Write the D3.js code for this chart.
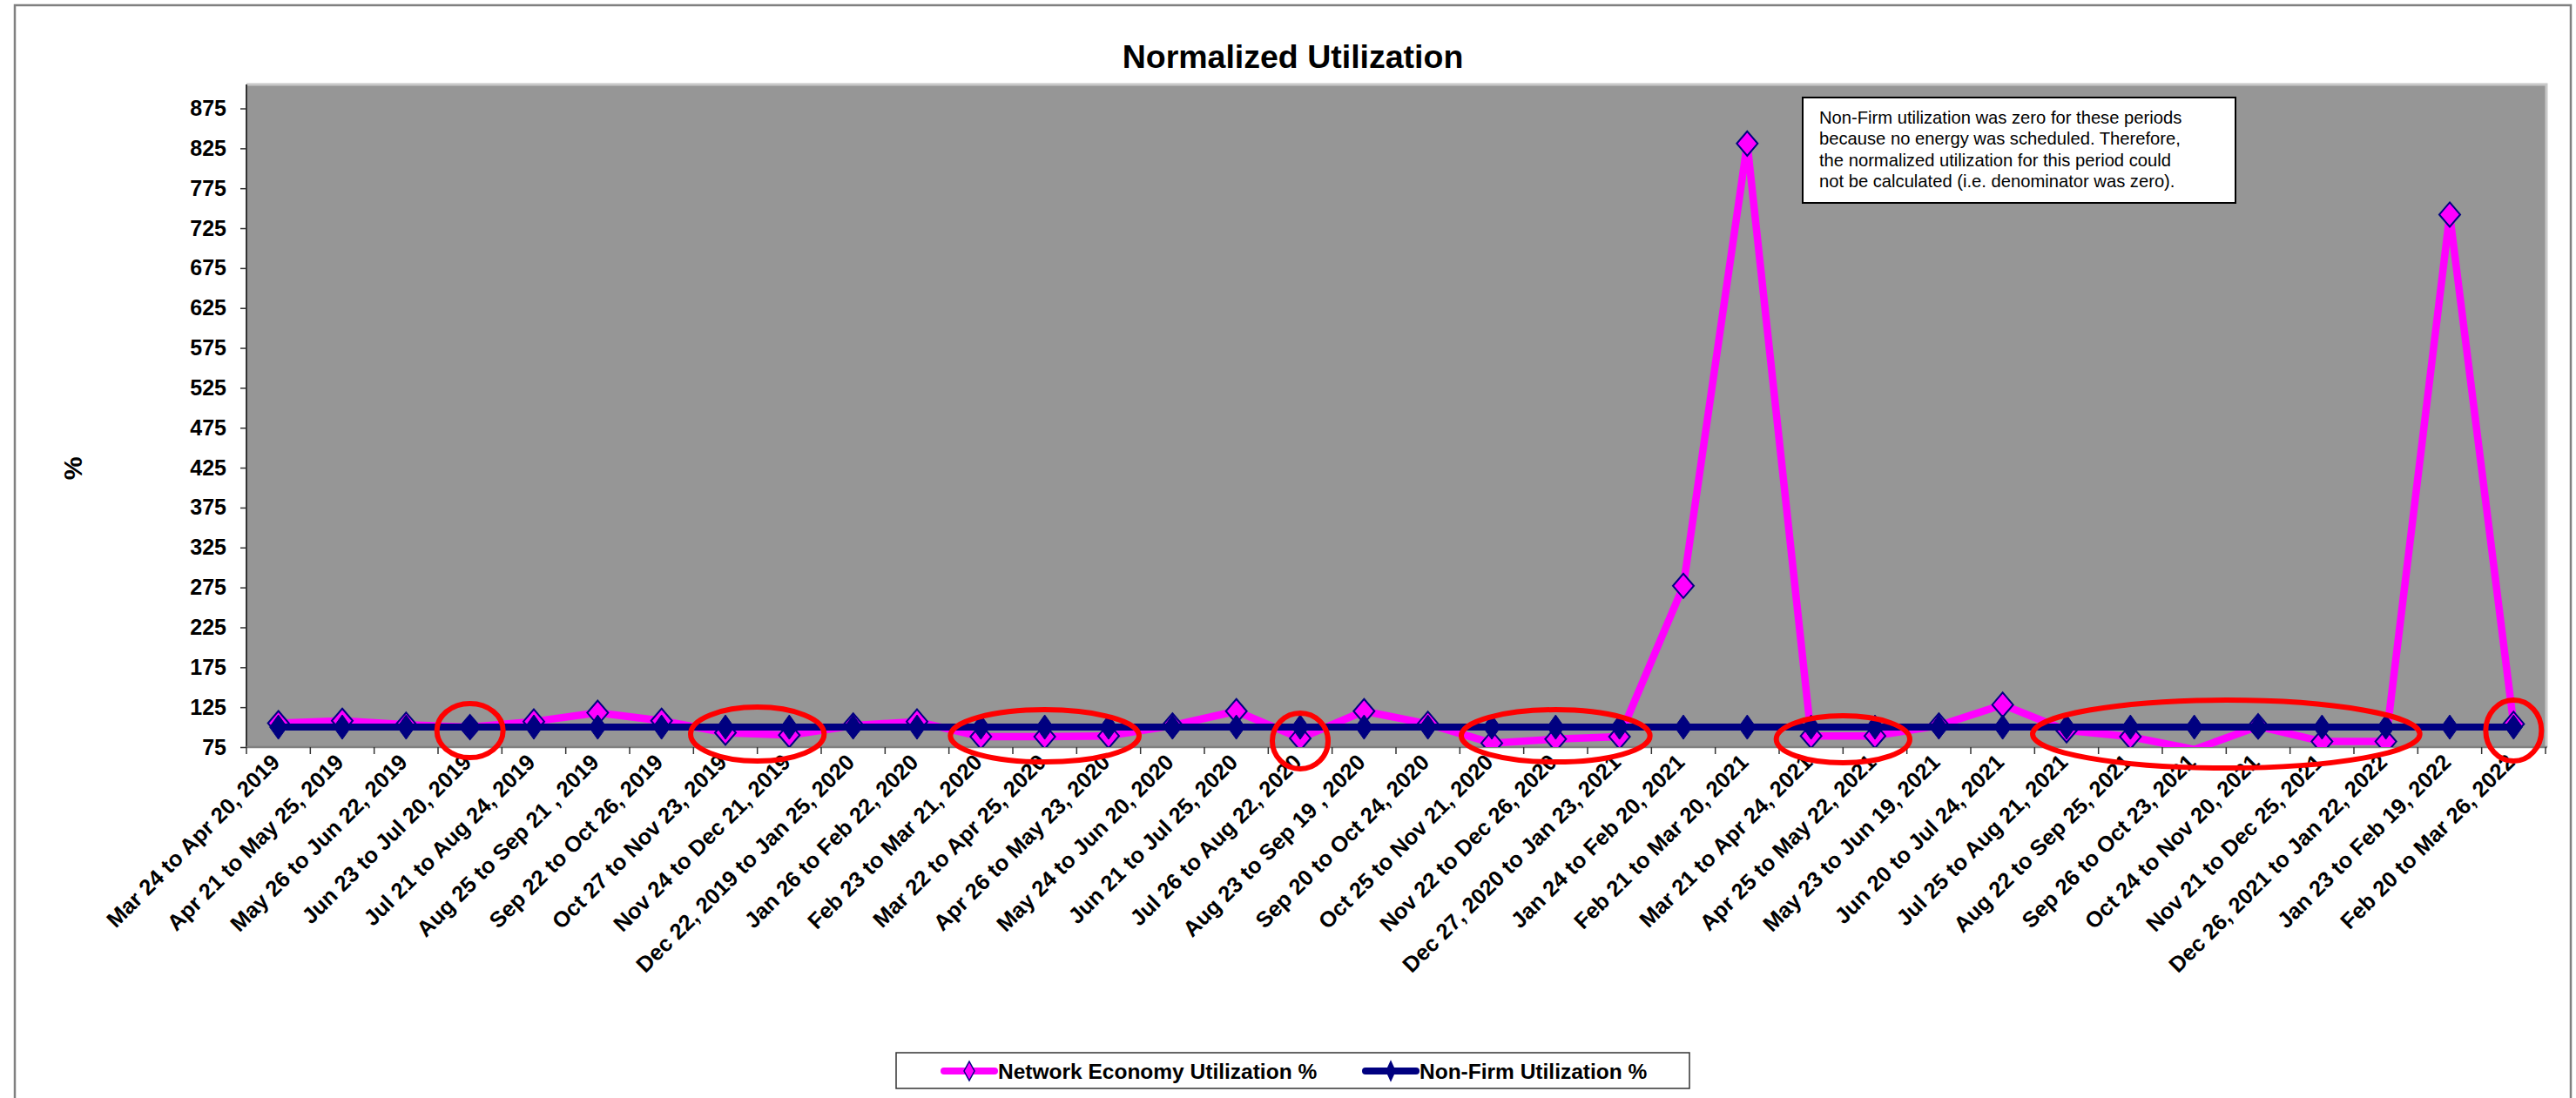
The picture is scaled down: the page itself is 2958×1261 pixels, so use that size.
<!DOCTYPE html>
<html><head><meta charset="utf-8">
<script src="https://cdn.jsdelivr.net/npm/d3@7"></script>
<style>
body{margin:0;background:#fff}
svg{display:block}
text{font-family:Arial,"Liberation Sans",Helvetica,sans-serif}
</style>
</head><body>
<svg id="chart" width="2958" height="1261"></svg>
<script>
const categories = [
  "Mar 24 to Apr 20, 2019","Apr 21 to May 25, 2019","May 26 to Jun 22, 2019","Jun 23 to Jul 20, 2019",
  "Jul 21 to Aug 24, 2019","Aug 25 to Sep 21 , 2019","Sep 22 to Oct 26, 2019","Oct 27 to Nov 23, 2019",
  "Nov 24 to Dec 21, 2019","Dec 22, 2019 to Jan 25, 2020","Jan 26 to Feb 22, 2020","Feb 23 to Mar 21, 2020",
  "Mar 22 to Apr 25, 2020","Apr 26 to May 23, 2020","May 24 to Jun 20, 2020","Jun 21 to Jul 25, 2020",
  "Jul 26 to Aug 22, 2020","Aug 23 to Sep 19 , 2020","Sep 20 to Oct 24, 2020","Oct 25 to Nov 21, 2020",
  "Nov 22 to Dec 26, 2020","Dec 27, 2020 to Jan 23, 2021","Jan 24 to Feb 20, 2021","Feb 21 to Mar 20, 2021",
  "Mar 21 to Apr 24, 2021","Apr 25 to May 22, 2021","May 23 to Jun 19, 2021","Jun 20 to Jul 24, 2021",
  "Jul 25 to Aug 21, 2021","Aug 22 to Sep 25, 2021","Sep 26 to Oct 23, 2021","Oct 24 to Nov 20, 2021",
  "Nov 21 to Dec 25, 2021","Dec 26, 2021 to Jan 22, 2022","Jan 23 to Feb 19, 2022","Feb 20 to Mar 26, 2022"
];
const networkEconomy = [
  105,108,103,100,107,118,108,93,90,102,107,88,
  88,89,102,120,86,120,104,80,85,88,277,831,
  89,89,102,128,96,88,72,101,82,82,742,104
];
const nonFirm = [
  100,100,100,100,100,100,100,100,100,100,100,100,
  100,100,100,100,100,100,100,100,100,100,100,100,
  100,100,100,100,100,100,100,100,100,100,100,100
];
const yTicks = [75,125,175,225,275,325,375,425,475,525,575,625,675,725,775,825,875];
const seriesNames = ["Network Economy Utilization %","Non-Firm Utilization %"];
const chartTitle = "Normalized Utilization";
const yAxisTitle = "%";
const noteLines = [
  "Non-Firm utilization was zero for these periods",
  "because no energy was scheduled. Therefore,",
  "the normalized utilization for this period could",
  "not be calculated (i.e. denominator was zero)."
];
// circled periods: [first category, last category]
const circledPeriods = [
  ["Jun 23 to Jul 20, 2019","Jun 23 to Jul 20, 2019"],
  ["Oct 27 to Nov 23, 2019","Nov 24 to Dec 21, 2019"],
  ["Feb 23 to Mar 21, 2020","Apr 26 to May 23, 2020"],
  ["Jul 26 to Aug 22, 2020","Jul 26 to Aug 22, 2020"],
  ["Oct 25 to Nov 21, 2020","Dec 27, 2020 to Jan 23, 2021"],
  ["Mar 21 to Apr 24, 2021","Apr 25 to May 22, 2021"],
  ["Jul 25 to Aug 21, 2021","Dec 26, 2021 to Jan 22, 2022"],
  ["Feb 20 to Mar 26, 2022","Feb 20 to Mar 26, 2022"]
];

// ---------- layout ----------
const W = 2958, H = 1261;
const plot = {left: 283, right: 2923, top: 97, bottom: 858};
const PINK = "#FF00FF", NAVY = "#000080";

const svg = d3.select("#chart");

// outer chart border (bottom edge is cut off in the reference)
svg.append("path")
  .attr("d", `M17,${H+5} L17,6 L2952,6 L2952,${H+5}`)
  .attr("fill","none").attr("stroke","#808080").attr("stroke-width",2.5);

const x = d3.scaleBand().domain(categories).range([plot.left, plot.right]).padding(0);
const xc = c => x(c) + x.bandwidth()/2;
const y = d3.scaleLinear().domain([75, 905]).range([plot.bottom, plot.top]);

// plot area
svg.append("rect")
  .attr("x", plot.left).attr("y", plot.top)
  .attr("width", plot.right-plot.left).attr("height", plot.bottom-plot.top)
  .attr("fill", "#969696");
// light top / right edges
svg.append("path")
  .attr("d", `M${plot.left},${plot.top} L${plot.right+1},${plot.top} L${plot.right+1},${plot.bottom}`)
  .attr("fill","none").attr("stroke","#c8c8c8").attr("stroke-width",3);

// title
svg.append("text")
  .attr("x", (17+2952)/2).attr("y", 78)
  .attr("text-anchor","middle").attr("font-weight","bold").attr("font-size",37.5)
  .attr("fill","#000").text(chartTitle);

// y axis
const yAxis = d3.axisLeft(y).tickValues(yTicks).tickSize(7).tickPadding(16).tickSizeOuter(0);
const gy = svg.append("g").attr("transform", `translate(${plot.left},0)`).call(yAxis);
gy.select(".domain").attr("stroke","#333").attr("stroke-width",2)
  .attr("d", `M0,${plot.top}V${plot.bottom}`);
gy.selectAll(".tick line").attr("stroke","#333").attr("stroke-width",1.5);
gy.selectAll(".tick text")
  .attr("font-family","Arial, 'Liberation Sans', sans-serif")
  .attr("font-size",25).attr("font-weight","bold").attr("fill","#000");

// y axis title
svg.append("text")
  .attr("transform","translate(94,538) rotate(-90)")
  .attr("text-anchor","middle").attr("font-weight","bold").attr("font-size",30)
  .text(yAxisTitle);

// x axis line + ticks at category boundaries
svg.append("line")
  .attr("x1",plot.left).attr("x2",plot.right+2).attr("y1",plot.bottom).attr("y2",plot.bottom)
  .attr("stroke","#808080").attr("stroke-width",2.5);
const boundaries = categories.map(c => x(c)).concat([plot.right]);
svg.append("g").selectAll("line").data(boundaries).join("line")
  .attr("x1", d => d).attr("x2", d => d)
  .attr("y1", plot.bottom).attr("y2", plot.bottom+8)
  .attr("stroke","#333").attr("stroke-width",1.5);

// x tick labels
svg.append("g").selectAll("text").data(categories).join("text")
  .attr("transform", c => `translate(${xc(c)+3},${plot.bottom+19}) rotate(-45)`)
  .attr("text-anchor","end")
  .attr("font-size",25.5).attr("font-weight","bold").attr("fill","#000")
  .text(c => c);

// series
svg.append("clipPath").attr("id","plotclip").append("rect")
  .attr("x", plot.left).attr("y", plot.top)
  .attr("width", plot.right-plot.left+2).attr("height", plot.bottom-plot.top);

const line = d3.line().x((d,i) => xc(categories[i])).y(d => y(d));
const diamond = (hw, hh) => `M0,${-hh} L${hw},0 L0,${hh} L${-hw},0 Z`;

const gSeries = svg.append("g").attr("clip-path","url(#plotclip)");
// Network Economy
gSeries.append("path").datum(networkEconomy)
  .attr("d", line).attr("fill","none").attr("stroke",PINK)
  .attr("stroke-width",8.5).attr("stroke-linejoin","round");
gSeries.append("g").selectAll("path")
  .data(networkEconomy.map((v,i)=>({v,i})).filter(d => d.v >= 75)).join("path")
  .attr("transform", d => `translate(${xc(categories[d.i])},${y(d.v)})`)
  .attr("d", diamond(12,14)).attr("fill",PINK).attr("stroke",NAVY).attr("stroke-width",2);
// Non-Firm
gSeries.append("path").datum(nonFirm)
  .attr("d", line).attr("fill","none").attr("stroke",NAVY)
  .attr("stroke-width",8).attr("stroke-linejoin","round");
svg.append("g").selectAll("path").data(nonFirm.map((v,i)=>({v,i}))).join("path")
  .attr("transform", d => `translate(${xc(categories[d.i])},${y(d.v)})`)
  .attr("d", diamond(10,14)).attr("fill",NAVY).attr("stroke",NAVY).attr("stroke-width",1);

// note box
const note = svg.append("g");
note.append("rect").attr("x",2070).attr("y",112).attr("width",497).attr("height",121)
  .attr("fill","#fff").attr("stroke","#000").attr("stroke-width",2);
note.selectAll("text").data(noteLines).join("text")
  .attr("x",2089).attr("y",(d,i) => 142 + i*24.4)
  .attr("font-size",20.2).attr("fill","#000").text(d => d);

// red ellipses around circled periods
const ellipseSizes = [
  {pad:38, ry:31, dy:-4},{pad:40, ry:31, dy:0},{pad:35, ry:30, dy:2},{pad:32, ry:32, dy:8},
  {pad:35, ry:30, dy:2},{pad:40, ry:27, dy:6},{pad:39, ry:39, dy:0},{pad:32, ry:35, dy:-4}
];
svg.append("g").selectAll("ellipse").data(circledPeriods).join("ellipse")
  .attr("cx", d => (xc(d[0]) + xc(d[1]))/2)
  .attr("cy", (d,i) => y(100) + 8 + ellipseSizes[i].dy)
  .attr("rx", (d,i) => (xc(d[1]) - xc(d[0]))/2 + ellipseSizes[i].pad)
  .attr("ry", (d,i) => ellipseSizes[i].ry)
  .attr("fill","none").attr("stroke","#FF0000").attr("stroke-width",6);

// legend
const lg = svg.append("g");
lg.append("rect").attr("x",1029).attr("y",1209).attr("width",911).attr("height",41)
  .attr("fill","#fff").attr("stroke","#333").attr("stroke-width",1.5);
const legendItems = [
  {name: seriesNames[0], color: PINK, x0: 1084, marker: {hw:6,hh:11,fill:PINK,stroke:NAVY}},
  {name: seriesNames[1], color: NAVY, x0: 1568, marker: {hw:5,hh:11,fill:NAVY,stroke:NAVY}}
];
const li = lg.selectAll("g.item").data(legendItems).join("g").attr("class","item");
li.append("line").attr("x1",d=>d.x0).attr("x2",d=>d.x0+58).attr("y1",1230).attr("y2",1230)
  .attr("stroke",d=>d.color).attr("stroke-width",8).attr("stroke-linecap","round");
li.append("path").attr("transform",d=>`translate(${d.x0+29},1230)`)
  .attr("d",d=>diamond(d.marker.hw,d.marker.hh)).attr("fill",d=>d.marker.fill)
  .attr("stroke",d=>d.marker.stroke).attr("stroke-width",1.5);
li.append("text").attr("x",d=>d.x0+62).attr("y",1239)
  .attr("font-size",24.5).attr("font-weight","bold").attr("fill","#000").text(d=>d.name);
</script>
</body></html>
